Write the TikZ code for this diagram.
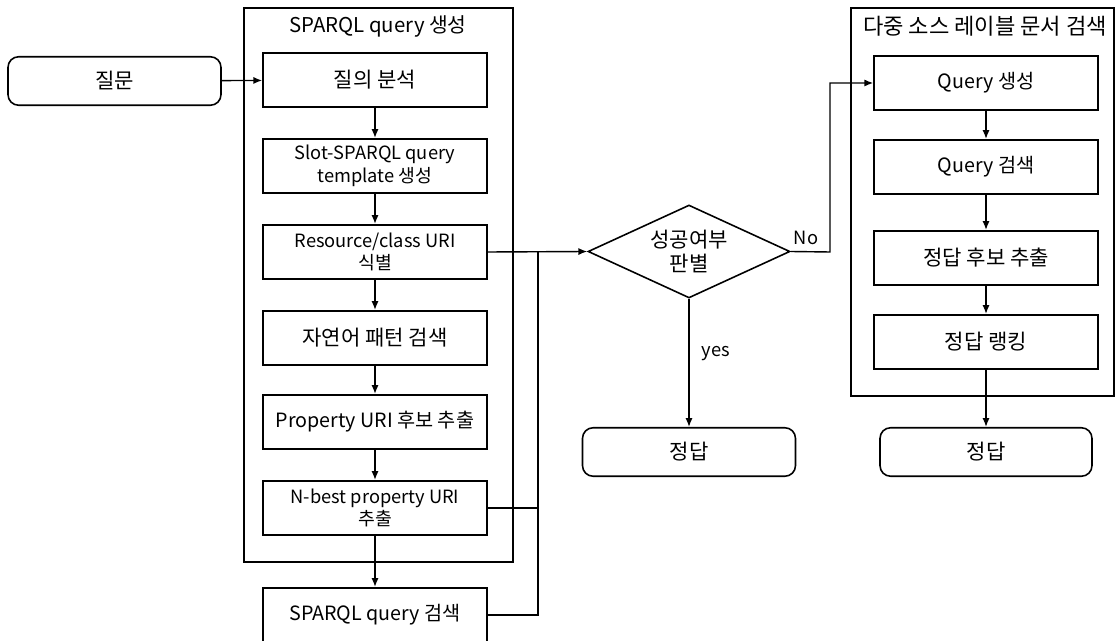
\documentclass[tikz,border=0pt]{standalone}
\usepackage{fontspec}
\setmainfont{Noto Sans CJK KR}
\usetikzlibrary{arrows.meta,shapes.geometric}

\tikzset{
  bigtext/.style={font=\fontsize{12}{15}\selectfont},
  midtext/.style={font=\fontsize{11.2}{14}\selectfont},
  smalltext/.style={font=\fontsize{10.4}{13}\selectfont},
  stepbox/.style={draw, line width=0.9pt, minimum width=4.48cm, minimum height=1.09cm, align=center, inner sep=1pt, bigtext},
  smallbox/.style={stepbox, smalltext},
  midbox/.style={stepbox, midtext},
  endbox/.style={draw, rounded corners=6pt, line width=0.9pt, minimum width=4.26cm, minimum height=0.97cm, bigtext},
  groupbox/.style={draw, line width=0.9pt},
  flow/.style={-{Latex[length=5pt,width=4pt]}, line width=0.8pt},
  link/.style={line width=0.8pt}
}

\begin{document}
\begin{tikzpicture}[x=0.02cm,y=-0.02cm]
\useasboundingbox (0,0) rectangle (1115,641);
\draw[groupbox] (244,8) rectangle (513,562);
\node[font=\fontsize{11.6}{14}\selectfont] (lefttitle) at (378,26) {SPARQL query 생성};
\draw[groupbox] (851,8) rectangle (1114,396);
\node[font=\fontsize{12.6}{15}\selectfont] (righttitle) at (985,26) {다중 소스 레이블 문서 검색};

\node[endbox] (ask) at (114.5,81) {질문};
\node[stepbox] (q1) at (375,80) {질의 분석};
\node[smallbox] (q2) at (375,166) {Slot-SPARQL query\\template 생성};
\node[smallbox] (q3) at (375,252) {Resource/class URI\\식별};
\node[stepbox] (q4) at (375,338) {자연어 패턴 검색};
\node[midbox] (q5) at (375,422) {Property URI 후보 추출};
\node[smallbox] (q6) at (375,508) {N-best property URI\\추출};
\node[midbox] (q7) at (375,615) {SPARQL query 검색};

\node[draw, diamond, line width=0.9pt, aspect=2.17, inner sep=0pt, minimum width=4.04cm, minimum height=1.86cm, align=center, font=\fontsize{12}{14}\selectfont] (judge) at (689,251.5) {성공여부\\판별};
\node[smalltext] (nolabel) at (806,238) {No};
\node[smalltext] (yeslabel) at (716,354) {yes};
\node[endbox] (ans1) at (689,452) {정답};

\node[midbox] (r1) at (986,83) {Query 생성};
\node[midbox] (r2) at (986,167) {Query 검색};
\node[stepbox] (r3) at (986,258) {정답 후보 추출};
\node[stepbox] (r4) at (986,342) {정답 랭킹};
\node[endbox, minimum width=4.24cm] (ans2) at (986,452) {정답};

\coordinate (merge) at (538,252);
\coordinate (turn) at (830,252);

\draw[flow] (ask) -- (q1);
\draw[flow] (q1) -- (q2);
\draw[flow] (q2) -- (q3);
\draw[flow] (q3) -- (q4);
\draw[flow] (q4) -- (q5);
\draw[flow] (q5) -- (q6);
\draw[flow] (q6) -- (q7);
\draw[flow] (q3.east) -- (judge.west);
\draw[link] (q6.east) -| (merge);
\draw[link] (q7.east) -| (merge);
\draw[flow] (judge.east) -- (turn) |- (r1.west);
\draw[flow] (judge) -- (ans1);
\draw[flow] (r1) -- (r2);
\draw[flow] (r2) -- (r3);
\draw[flow] (r3) -- (r4);
\draw[flow] (r4) -- (ans2);
\end{tikzpicture}
\end{document}
